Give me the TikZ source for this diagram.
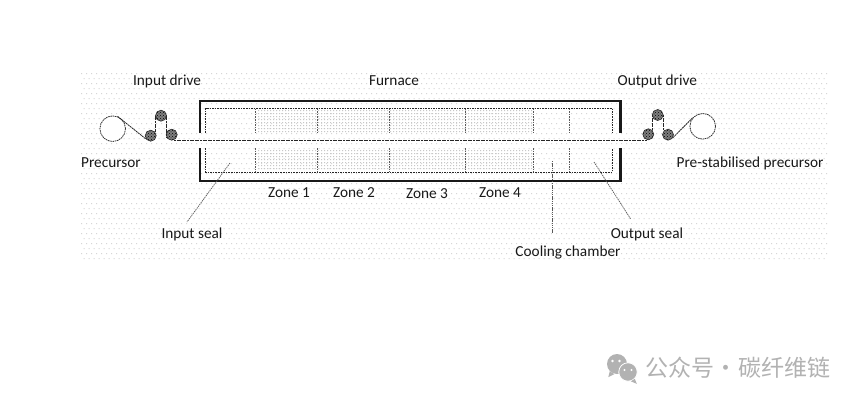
\documentclass[tikz,border=0pt]{standalone}
\usepackage{fontspec}
\setmainfont{Carlito}
\newfontfamily\cjkfont{Noto Sans CJK SC}
\usetikzlibrary{patterns}
\definecolor{dotgray}{gray}{0.84}
\definecolor{wmgray}{gray}{0.70}
\tikzset{
  lbl/.style={font=\fontsize{15.3}{17}\selectfont, text=black!90, inner sep=0pt},
  frameline/.style={line width=2.3pt, black!90},
  innerline/.style={line width=0.9pt, dash pattern=on 1.6pt off 1pt, black!85},
  zoneline/.style={line width=0.9pt, dash pattern=on 1.6pt off 1pt, black!65},
  fibre/.style={line width=0.8pt, dash pattern=on 2pt off 0.6pt, black!85},
  leader/.style={line width=0.7pt, dash pattern=on 1.4pt off 0.8pt, black!65},
  spool/.style={circle, draw=black!80, line width=0.8pt, dash pattern=on 1.6pt off 0.7pt, fill=white, minimum size=25.6pt, inner sep=0pt},
  roller/.style={circle, draw=black!85, line width=0.6pt, preaction={fill=black!50}, minimum size=11pt, inner sep=0pt, pattern=crosshatch dots, pattern color=black},
  bubble/.style={circle, fill=wmgray, inner sep=0pt}
}
\begin{document}
\begin{tikzpicture}[x=1pt,y=-1pt]
\useasboundingbox (0,0) rectangle (860,402);
\fill[white] (0,0) rectangle (860,402);
% stippled background
\fill[dotgray] foreach \y in {73,83,...,258} { foreach \x in {81,86,...,826} { (\x,\y) rectangle +(1,1) } };
\fill[dotgray] foreach \y in {78,88,...,258} { foreach \x in {83.5,88.5,...,826} { (\x,\y) rectangle +(1,1) } };
% shaded heated zones
\fill[black!22] foreach \y in {110,113,...,132, 150,153,...,170} { foreach \x in {258,261,...,532} { (\x,\y) rectangle +(1,1) } };
% furnace walls
\draw[frameline] (200,133) -- (200,101) -- (620.5,101) -- (620.5,133);
\draw[frameline] (200,148) -- (200,181) -- (620.5,181) -- (620.5,148);
\draw[innerline] (205.5,133) -- (205.5,108.5) -- (612.5,108.5) -- (612.5,133);
\draw[innerline] (205.5,148) -- (205.5,172) -- (612.5,172) -- (612.5,148);
% zone dividers
\foreach \zx in {255.7,317.7,389.7,465,533.7,569.3} {
  \draw[zoneline] (\zx,108.5) -- (\zx,133);
  \draw[zoneline] (\zx,148) -- (\zx,172);
}
% spools and rollers
\node[spool] (prec) at (112.7,128.7) {};
\node[roller] (r1) at (150.7,135.7) {};
\node[roller] (r2) at (161,115.7) {};
\node[roller] (r3) at (171.7,134.7) {};
\node[roller] (r4) at (648.3,134.3) {};
\node[roller] (r5) at (657.7,115) {};
\node[roller] (r6) at (668,134.7) {};
\node[spool] (post) at (702.7,126.3) {};
% fibre path
\draw[fibre] (prec.68) -- (r1.215);
\draw[fibre] (r2.west) -- (r2.west |- 0,132);
\draw[fibre] (r2.east) -- (r2.east |- 0,137);
\draw[fibre] (r3.-60) -- (r3.-60 |- 0,140.3) -- (r4.-110 |- 0,140.3) -- (r4.-110);
\draw[fibre] (r5.west) -- (r5.west |- 0,130);
\draw[fibre] (r5.east) -- (r5.east |- 0,130);
\draw[fibre] (r6.-30) -- (post.140);
% labels
\node[lbl] (linput) at (167,81) {Input drive};
\node[lbl] (lfurn) at (394,81) {Furnace};
\node[lbl] (loutput) at (657.3,81) {Output drive};
\node[lbl] (lprec) at (111,163) {Precursor};
\node[lbl] (lpost) at (750,163) {Pre-stabilised precursor};
\node[lbl] (z1) at (289,193) {Zone 1};
\node[lbl] (z2) at (354,193) {Zone 2};
\node[lbl] (z3) at (427,194) {Zone 3};
\node[lbl] (z4) at (500,193) {Zone 4};
\node[lbl] (lis) at (192,234) {Input seal};
\node[lbl] (lcc) at (568,252) {Cooling chamber};
\node[lbl] (los) at (647,234) {Output seal};
% leaders
\coordinate (isa) at (230,163);
\coordinate (isb) at (187,222);
\coordinate (osa) at (594,162);
\coordinate (osb) at (630.7,219);
\coordinate (cca) at (552.3,161);
\coordinate (ccb) at (552.3,233);
\draw[leader] (isa) -- (isb);
\draw[leader] (osa) -- (osb);
\draw[leader] (cca) -- (ccb);
% watermark
\node[bubble, minimum size=20pt] (wa) at (617,364) {};
\fill[wmgray] (wa.-135) -- ++(-1.5,6) -- ++(6,-3) -- cycle;
\node[bubble, minimum size=18.5pt, draw=white, line width=0.8pt] (wb) at (628,372) {};
\fill[wmgray] (wb.-45) -- ++(2,5) -- ++(-6,-2.5) -- cycle;
\fill[white] (612.5,361) circle (1.3) (619.5,361) circle (1.3) (624.5,370) circle (1.1) (631.5,370) circle (1.1);
\node[font=\cjkfont\fontsize{23}{25}\selectfont, text=wmgray, inner sep=0pt, anchor=west] (wm) at (645,368) {公众号\hspace{-4.5pt} · \hspace{-4.5pt}碳纤维链};
\end{tikzpicture}
\end{document}
